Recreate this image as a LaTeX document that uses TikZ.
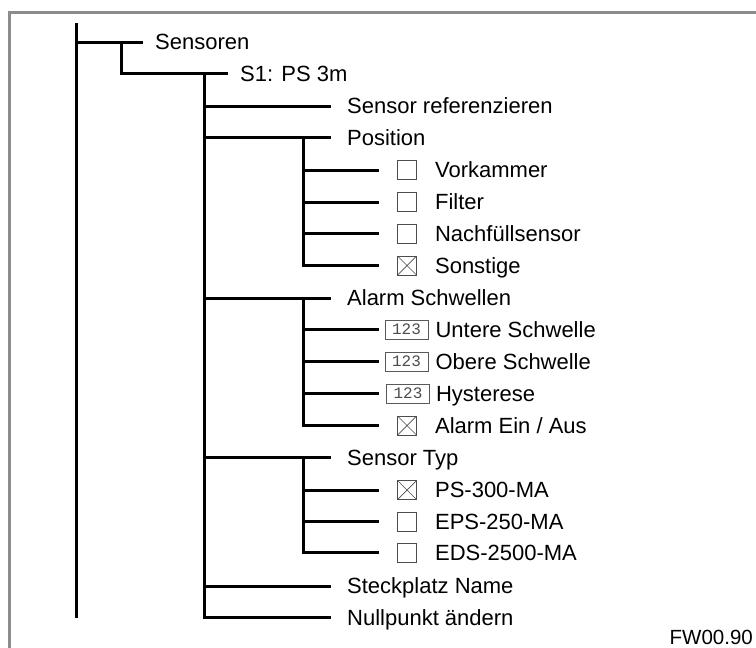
\documentclass[tikz,border=0pt]{standalone}
\usepackage{fontspec}
\setmainfont{Liberation Sans}
\setmonofont{Liberation Mono}
\usetikzlibrary{positioning, calc}

\begin{document}
\begin{tikzpicture}[
    x=1pt, y=-1pt,
    tree/.style={line width=3pt, black},
    framestyle/.style={line width=3pt, black!45},
    item/.style={inner sep=0pt, anchor=west, text height=15.5pt, text depth=0pt, font=\fontsize{22}{25}\selectfont},
    chkbox/.style={rectangle, draw=black!70, line width=0.8pt, minimum size=19pt, inner sep=0pt},
    chkx/.style={chkbox, path picture={\draw[black!70, line width=0.7pt]
        (path picture bounding box.north west) -- (path picture bounding box.south east)
        (path picture bounding box.north east) -- (path picture bounding box.south west);}},
    numbox/.style={rectangle, draw=black!65, line width=0.8pt, minimum width=43pt, minimum height=19pt, inner sep=0pt, font=\ttfamily\fontsize{16}{16}\selectfont, text=black!70}
]
\useasboundingbox (0,0) rectangle (756,648);

% === Frame ===
\draw[framestyle] (9.5,648) -- (9.5,12.5) -- (756,12.5);

% === Level 0/1 ===
\node[item] (sens) at (155,42) {Sensoren};
\node[item] (s1) at (240,73.5) {S1: PS 3m};

% === Level 2 ===
\node[item] (sref) at (347,106) {Sensor referenzieren};
\node[item] (pos) at (347,137.5) {Position};
\node[item] (alarm) at (347,298) {Alarm Schwellen};
\node[item] (typ) at (347,457.5) {Sensor Typ};
\node[item] (steck) at (347,586) {Steckplatz Name};
\node[item] (null) at (347,617.5) {Nullpunkt ändern};

% === Level 3: Position ===
\node[chkbox] (cbVork) at (407,170) {};
\node[chkbox] (cbFilt) at (407,202) {};
\node[chkbox] (cbNach) at (407,233.5) {};
\node[chkx] (cbSonst) at (407,265.5) {};
\node[item, right=18pt of cbVork] (vork) {Vorkammer};
\node[item, right=18pt of cbFilt] (filt) {Filter};
\node[item, right=18pt of cbNach] (nach) {Nachfüllsensor};
\node[item, right=18pt of cbSonst] (sonst) {Sonstige};

% === Level 3: Alarm Schwellen ===
\node[numbox] (nbUnt) at (406.5,329.5) {123};
\node[numbox] (nbOb) at (406.5,361.5) {123};
\node[numbox] (nbHys) at (408,393.5) {123};
\node[chkx] (cbAlarm) at (407,425.5) {};
\node[item, right=7pt of nbUnt] (unt) {Untere Schwelle};
\node[item, right=7pt of nbOb] (ob) {Obere Schwelle};
\node[item, right=6pt of nbHys] (hys) {Hysterese};
\node[item, right=18pt of cbAlarm] (aein) {Alarm Ein / Aus};

% === Level 3: Sensor Typ ===
\node[chkx] (cbPs) at (407,490) {};
\node[chkbox] (cbEps) at (407,521.5) {};
\node[chkbox] (cbEds) at (407,552.5) {};
\node[item, right=18pt of cbPs] (ps) {PS-300-MA};
\node[item, right=18pt of cbEps] (eps) {EPS-250-MA};
\node[item, right=18pt of cbEds] (eds) {EDS-2500-MA};

\node[item, anchor=east, font=\fontsize{20.5}{24}\selectfont] (fw) at (753,637) {FW00.90};

% === Trunks ===
\coordinate (root) at (76,23);
\coordinate (t1) at (121,42);
\coordinate (t2) at (204,73.5);
\coordinate (t3a) at (303,137.5);
\coordinate (t3b) at (303,298);
\coordinate (t3c) at (303,457.5);

\draw[tree] (root) -- (root |- null.west);
\draw[tree] (root |- sens.west) -- ([xshift=-12pt]sens.west);
\draw[tree] (t1) |- ([xshift=-12pt]s1.west);

\draw[tree] (t2) |- ([xshift=-16pt]null.west);
\draw[tree] (t2 |- sref.west) -- ([xshift=-16pt]sref.west);
\draw[tree] (t2 |- pos.west) -- ([xshift=-16pt]pos.west);
\draw[tree] (t2 |- alarm.west) -- ([xshift=-16pt]alarm.west);
\draw[tree] (t2 |- typ.west) -- ([xshift=-16pt]typ.west);
\draw[tree] (t2 |- steck.west) -- ([xshift=-16pt]steck.west);

% Position
\draw[tree] (t3a) |- ([xshift=-18.5pt]cbSonst.west);
\draw[tree] (t3a |- cbVork) -- ([xshift=-18.5pt]cbVork.west);
\draw[tree] (t3a |- cbFilt) -- ([xshift=-18.5pt]cbFilt.west);
\draw[tree] (t3a |- cbNach) -- ([xshift=-18.5pt]cbNach.west);

% Alarm Schwellen
\draw[tree] (t3b) |- ([xshift=-18.5pt]cbAlarm.west);
\draw[tree] (t3b |- nbUnt) -- ([xshift=-6pt]nbUnt.west);
\draw[tree] (t3b |- nbOb) -- ([xshift=-6pt]nbOb.west);
\draw[tree] (t3b |- nbHys) -- ([xshift=-7.5pt]nbHys.west);

% Sensor Typ
\draw[tree] (t3c) |- ([xshift=-18.5pt]cbEds.west);
\draw[tree] (t3c |- cbPs) -- ([xshift=-18.5pt]cbPs.west);
\draw[tree] (t3c |- cbEps) -- ([xshift=-18.5pt]cbEps.west);

\end{tikzpicture}
\end{document}
